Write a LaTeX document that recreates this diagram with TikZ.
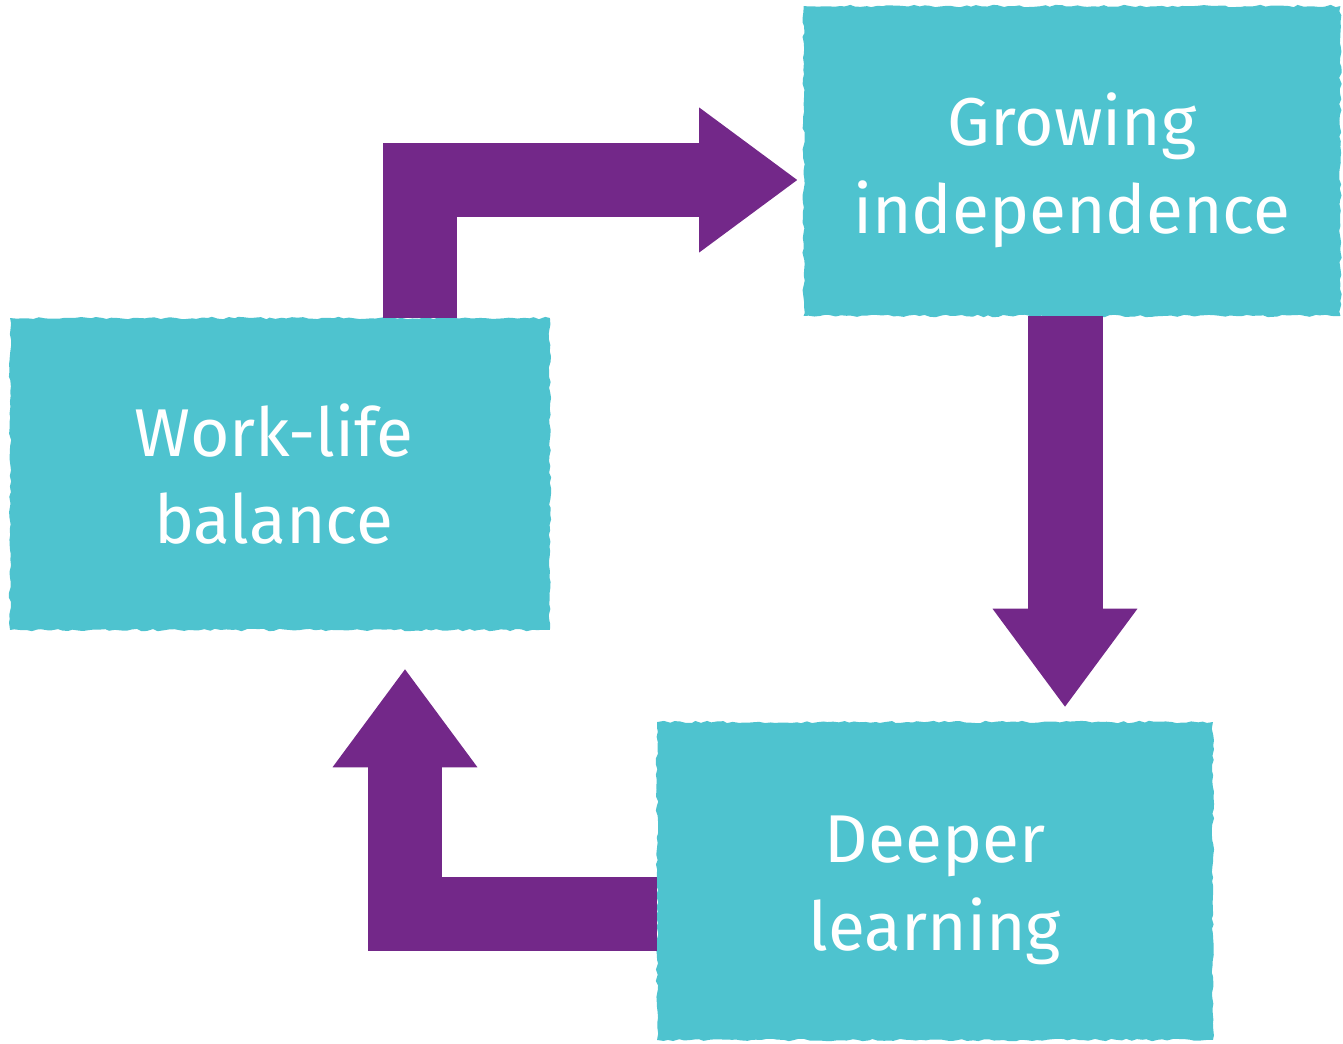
\documentclass[tikz,border=0pt]{standalone}
\usepackage{fontspec}
\setmainfont{Fira Sans}
\usepackage{tikz}
\usetikzlibrary{arrows.meta,decorations.pathmorphing}
\definecolor{boxteal}{HTML}{4EC3CF}
\definecolor{flowpurple}{HTML}{732889}
\tikzset{
  stagebox/.style={fill=boxteal, inner sep=0pt,
    decorate, decoration={random steps, segment length=3pt, amplitude=0.7pt}},
  stagetext/.style={text=white, align=center, inner sep=0pt,
    font=\fontsize{38.5}{50}\selectfont},
  flow/.style={draw=flowpurple, line width=1.5cm, line cap=butt, line join=miter,
    -{Triangle[length=1.96cm, width=2.9cm, line width=0pt]}}
}
\begin{document}
\begin{tikzpicture}[x=0.02cm, y=-0.02cm]
\pgfmathsetseed{7}
\useasboundingbox (0,0) rectangle (1343,1044);
% the three stages
\node[stagebox, minimum width=10.74cm, minimum height=6.2cm] (gi) at (1072,161) {};
\node[stagebox, minimum width=10.8cm, minimum height=6.24cm] (wlb) at (280,474) {};
\node[stagebox, minimum width=11.12cm, minimum height=6.36cm] (dl) at (935,881) {};
\node[stagetext] (gitext) at ([yshift=-0.18cm]gi.center) {Growing\\independence};
\node[stagetext] (wlbtext) at ([xshift=-0.12cm]wlb.center) {Work-life\\balance};
\node[stagetext] (dltext) at ([yshift=-0.18cm]dl.center) {Deeper\\learning};
% bends of the arrows
\coordinate (a1) at (420,180);
\coordinate (a2) at (1065,500);
\coordinate (a3) at (405,914);
\draw[flow] (wlb.north -| a1) |- ([xshift=-0.12cm]gi.west |- a1);
\draw[flow] (gi.south -| a2) -- ([yshift=0.3cm]dl.north -| a2);
\draw[flow] (dl.west |- a3) -| ([yshift=-0.78cm]wlb.south -| a3);
\end{tikzpicture}
\end{document}
